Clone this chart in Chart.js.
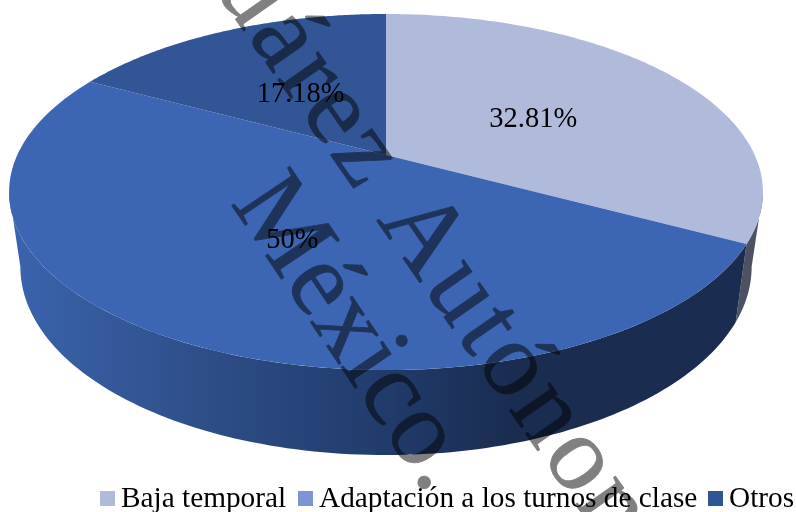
<!DOCTYPE html>
<html>
<head>
<meta charset="utf-8">
<style>
  html, body { margin: 0; padding: 0; background: #fff; }
  canvas { display: block; }
</style>
<script src="https://cdn.jsdelivr.net/npm/chart.js@4"></script>
</head>
<body>
<canvas id="pieChart" width="796" height="512"></canvas>
<script>
var categories = ['Baja temporal', 'Adaptación a los turnos de clase', 'Otros'];
var values = [32.81, 50, 17.18];
var valueLabels = ['32.81%', '50%', '17.18%'];
var sliceColors = ['#b0bbdc', '#3c66b4', '#325595'];
var legendColors = ['#b0bbdc', '#7c96d3', '#2f5597'];

var SERIF = '"Liberation Serif", serif';

// projects a point of the unit disc onto the tilted pie top
function project(u, v) {
   var d = 1 - 0.208 * v;
   return { x: 386 + 368.7 * u / d, y: (155 + 138.1 * v) / d };
}

// same point on the bottom rim, a bit narrower and lower
function projectBottom(u, v) {
   var p = project(u, v);
   return { x: 386 + (p.x - 386) * 0.97, y: p.y + 72 + 13 * v };
}

function traceRim(ctx, fn, a0, a1, first) {
   var steps = 120;
   for (var i = 0; i <= steps; i++) {
       var a = a0 + (a1 - a0) * i / steps;
       var p = fn(Math.cos(a), Math.sin(a));
       if (i === 0 && first) ctx.moveTo(p.x, p.y);
       else ctx.lineTo(p.x, p.y);
   }
}

function drawWall(ctx, a0, a1, fill) {
   ctx.beginPath();
   traceRim(ctx, project, a0, a1, true);
   traceRim(ctx, projectBottom, a1, a0, false);
   ctx.closePath();
   ctx.fillStyle = fill;
   ctx.fill();
}

function wordAt(c, text, x, y, size, angle, align, spacing) {
   c.save();
   c.font = size + 'px ' + SERIF;
   c.letterSpacing = spacing + 'px';
   c.textAlign = align;
   c.translate(x, y);
   c.rotate(angle * Math.PI / 180);
   c.fillText(text, 0, 0);
   c.strokeText(text, 0, 0);
   c.restore();
}

// watermark goes on a layer of its own so fill and outline multiply only once
function watermarkLayer() {
   var layer = document.createElement('canvas');
   layer.width = 796;
   layer.height = 512;
   var c = layer.getContext('2d');
   c.fillStyle = '#808080';
   c.strokeStyle = '#808080';
   c.lineWidth = 0.8;
   c.lineJoin = 'round';
   wordAt(c, 'Autónoma', 376, 220, 107, 55, 'left', 4);
   wordAt(c, 'Juárez ', 376, 220, 107, 55, 'right', 4);
   wordAt(c, 'México.', 230, 203, 107, 56, 'left', 0);
   return layer;
}

var pie3d = {
   id: 'pie3d',
   beforeDatasetsDraw: function (chart) {
       var ctx = chart.ctx;
       var arcs = chart.getDatasetMeta(0).data;
       var wallStart = Math.asin(0.208);
       var wallEnd = Math.PI - wallStart;

       ctx.save();
       // side wall
       drawWall(ctx, wallStart, arcs[0].endAngle, '#4c5261');
       var grad = ctx.createLinearGradient(10, 0, 750, 0);
       grad.addColorStop(0, '#3a64ae');
       grad.addColorStop(0.25, '#2f4f8a');
       grad.addColorStop(0.5, '#213c6c');
       grad.addColorStop(0.68, '#1a2c50');
       grad.addColorStop(1, '#1a2c50');
       drawWall(ctx, arcs[0].endAngle, wallEnd, grad);

       // top face
       arcs.forEach(function (arc, i) {
           ctx.beginPath();
           var c = project(0, 0);
           ctx.moveTo(c.x, c.y);
           traceRim(ctx, project, arc.startAngle, arc.endAngle, false);
           ctx.closePath();
           ctx.fillStyle = sliceColors[i];
           ctx.fill();
       });

       // value labels
       ctx.font = '28.5px ' + SERIF;
       ctx.fillStyle = '#000';
       ctx.textAlign = 'center';
       ctx.textBaseline = 'middle';
       arcs.forEach(function (arc, i) {
           var mid = (arc.startAngle + arc.endAngle) / 2;
           var p = project(0.49 * Math.cos(mid), 0.49 * Math.sin(mid));
           ctx.fillText(valueLabels[i], p.x, p.y + 5);
       });
       ctx.restore();
       return false;
   },
   afterDraw: function (chart) {
       var ctx = chart.ctx;
       ctx.save();

       // legend
       var boxes = [100, 298, 708];
       ctx.font = '29.3px ' + SERIF;
       ctx.textAlign = 'left';
       ctx.textBaseline = 'alphabetic';
       categories.forEach(function (name, i) {
           ctx.fillStyle = legendColors[i];
           ctx.fillRect(boxes[i], 491, 15, 15);
           ctx.fillStyle = '#000';
           ctx.fillText(name, boxes[i] + 21, 507);
       });

       ctx.globalCompositeOperation = 'multiply';
       ctx.drawImage(watermarkLayer(), 0, 0);
       ctx.restore();
   }
};

window.onload = function () {
   new Chart(document.getElementById('pieChart').getContext('2d'), {
       type: 'pie',
       data: {
           labels: categories,
           datasets: [{ data: values, backgroundColor: sliceColors, borderWidth: 0 }]
       },
       options: {
           responsive: false,
           animation: false,
           plugins: { legend: { display: false }, tooltip: { enabled: false } }
       },
       plugins: [pie3d]
   });
};
</script>
</body>
</html>
